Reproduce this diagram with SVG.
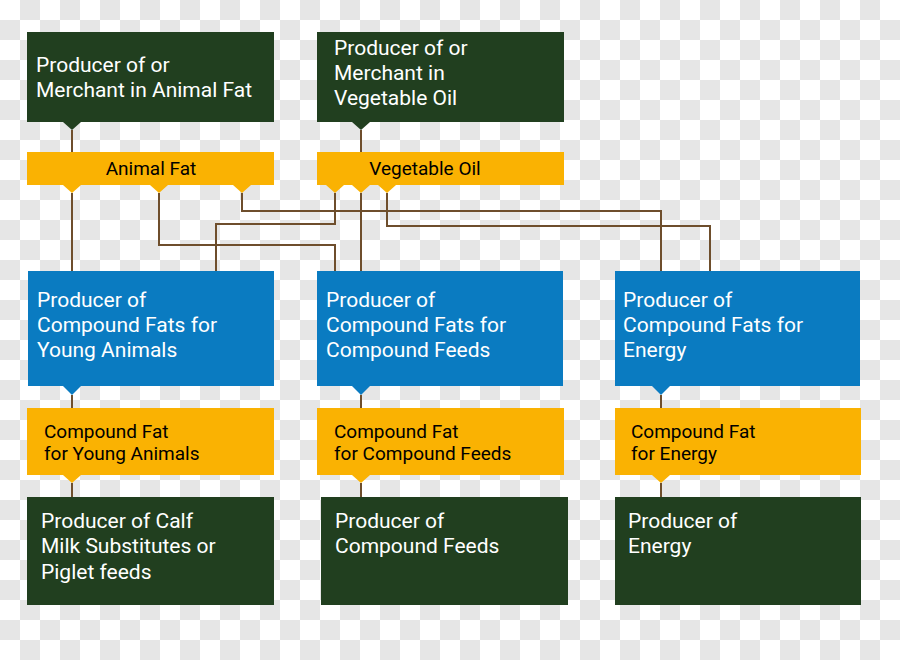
<svg xmlns="http://www.w3.org/2000/svg" width="900" height="660" viewBox="0 0 900 660">
<defs>
<style>
.dg{fill:#213f1f}
.bl{fill:#0a7bc1}
.ye{fill:#fab202}
.wt{fill:#ffffff;font-family:Roboto,"Liberation Sans",sans-serif;font-size:21px}
.bt{fill:#000000;font-family:Roboto,"Liberation Sans",sans-serif;font-size:19px}
.ln{fill:none;stroke:#6e4e2c;stroke-width:2}
.ck{fill:none;stroke:#e6e6e6;stroke-width:20;stroke-dasharray:20 20}
</style>
</defs>
<g id="background">
<rect x="0" y="0" width="900" height="660" fill="#ffffff"/>
<path class="ck" d="M20,10H900M0,30H900M20,50H900M0,70H900M20,90H900M0,110H900M20,130H900M0,150H900M20,170H900M0,190H900M20,210H900M0,230H900M20,250H900M0,270H900M20,290H900M0,310H900M20,330H900M0,350H900M20,370H900M0,390H900M20,410H900M0,430H900M20,450H900M0,470H900M20,490H900M0,510H900M20,530H900M0,550H900M20,570H900M0,590H900M20,610H900M0,630H900M20,650H900"/>
</g>

<g id="connectors">
<path class="ln" d="M72,130V152"/>
<path class="ln" d="M361,130V152"/>
<path class="ln" d="M72,193V271"/>
<path class="ln" d="M159,193V245H335V271"/>
<path class="ln" d="M242,193V211H661V271"/>
<path class="ln" d="M335,193V224H216V271"/>
<path class="ln" d="M361,193V271"/>
<path class="ln" d="M387,193V226H710V271"/>
<path class="ln" d="M72,395V408M72,483V497"/>
<path class="ln" d="M361,395V408M361,483V497"/>
<path class="ln" d="M661,395V408M661,483V497"/>
</g>

<g id="animal-fat-producer">
<rect class="dg" x="27" y="32" width="247" height="90"/>
<path class="dg" d="M63,122H81L72,130Z"/>
<text class="wt" x="36" y="72">Producer of or</text>
<text class="wt" x="36" y="97">Merchant in Animal Fat</text>
</g>

<g id="vegetable-oil-producer">
<rect class="dg" x="317" y="32" width="247" height="90"/>
<path class="dg" d="M352,122H370L361,130Z"/>
<text class="wt" x="334" y="55">Producer of or</text>
<text class="wt" x="334" y="80">Merchant in</text>
<text class="wt" x="334" y="105">Vegetable Oil</text>
</g>

<g id="animal-fat">
<rect class="ye" x="27" y="152" width="247" height="33"/>
<path class="ye" d="M63,185H81L72,193Z M150,185H168L159,193Z M233,185H251L242,193Z"/>
<text class="bt" x="151" y="175" text-anchor="middle">Animal Fat</text>
</g>

<g id="vegetable-oil">
<rect class="ye" x="317" y="152" width="247" height="33"/>
<path class="ye" d="M326,185H344L335,193Z M352,185H370L361,193Z M378,185H396L387,193Z"/>
<text class="bt" x="425" y="175" text-anchor="middle">Vegetable Oil</text>
</g>

<g id="young-animals-producer">
<rect class="bl" x="28" y="271" width="246" height="115"/>
<path class="bl" d="M63,386H81L72,395Z"/>
<text class="wt" x="37" y="307">Producer of</text>
<text class="wt" x="37" y="332">Compound Fats for</text>
<text class="wt" x="37" y="357">Young Animals</text>
</g>

<g id="compound-feeds-producer">
<rect class="bl" x="317" y="271" width="246" height="115"/>
<path class="bl" d="M352,386H370L361,395Z"/>
<text class="wt" x="326" y="307">Producer of</text>
<text class="wt" x="326" y="332">Compound Fats for</text>
<text class="wt" x="326" y="357">Compound Feeds</text>
</g>

<g id="energy-producer">
<rect class="bl" x="615" y="271" width="245" height="115"/>
<path class="bl" d="M652,386H670L661,395Z"/>
<text class="wt" x="623" y="307">Producer of</text>
<text class="wt" x="623" y="332">Compound Fats for</text>
<text class="wt" x="623" y="357">Energy</text>
</g>

<g id="fat-young-animals">
<rect class="ye" x="27" y="408" width="247" height="67"/>
<path class="ye" d="M63,475H81L72,483Z"/>
<text class="bt" x="44" y="438">Compound Fat</text>
<text class="bt" x="44" y="460">for Young Animals</text>
</g>

<g id="fat-compound-feeds">
<rect class="ye" x="317" y="408" width="247" height="67"/>
<path class="ye" d="M352,475H370L361,483Z"/>
<text class="bt" x="334" y="438">Compound Fat</text>
<text class="bt" x="334" y="460">for Compound Feeds</text>
</g>

<g id="fat-energy">
<rect class="ye" x="615" y="408" width="246" height="67"/>
<path class="ye" d="M652,475H670L661,483Z"/>
<text class="bt" x="631" y="438">Compound Fat</text>
<text class="bt" x="631" y="460">for Energy</text>
</g>

<g id="calf-milk-producer">
<rect class="dg" x="27" y="497" width="247" height="108"/>
<text class="wt" x="41" y="528">Producer of Calf</text>
<text class="wt" x="41" y="553">Milk Substitutes or</text>
<text class="wt" x="41" y="579">Piglet feeds</text>
</g>

<g id="compound-feeds-final">
<rect class="dg" x="321" y="497" width="247" height="108"/>
<text class="wt" x="335" y="528">Producer of</text>
<text class="wt" x="335" y="553">Compound Feeds</text>
</g>

<g id="energy-final">
<rect class="dg" x="615" y="497" width="246" height="108"/>
<text class="wt" x="628" y="528">Producer of</text>
<text class="wt" x="628" y="553">Energy</text>
</g>
</svg>
